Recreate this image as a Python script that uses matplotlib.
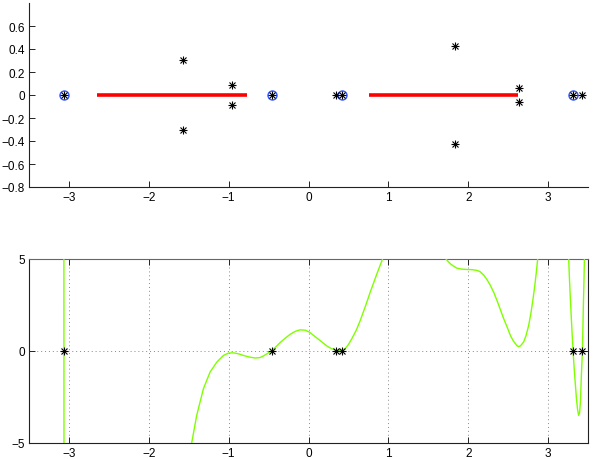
import numpy as np
import matplotlib
matplotlib.use("Agg")
import matplotlib.pyplot as plt
from matplotlib.ticker import FuncFormatter

plt.rcParams['font.family'] = ['Liberation Sans', 'DejaVu Sans']
plt.rcParams['font.size'] = 8.5

# ---------------- data ----------------
# real roots (shown as asterisks on both panels)
real_roots = [-3.065, -0.462, 0.343, 0.418, 3.315, 3.43]
# roots marked with blue circles
circled_roots = [-3.065, -0.462, 0.418, 3.315]
# complex roots (real part, imaginary part)
complex_re = [-1.574, -1.574, -0.96, -0.96, 1.834, 1.834, 2.632, 2.632]
complex_im = [0.304, -0.304, 0.087, -0.087, 0.429, -0.429, 0.061, -0.058]
# red intervals on the real axis
interval_starts = [-2.644, 0.761]
interval_ends = [-0.772, 2.624]

# green curve
seg1_x = [-3.063, -3.062]
seg1_y = [5.2, -5.2]
seg2_x = [-1.47, -1.461, -1.40, -1.316, -1.232, -1.148, -1.065, -1.0, -0.94, -0.88,
          -0.815, -0.74, -0.668, -0.61, -0.564, -0.52, -0.467, -0.41, -0.355, -0.29,
          -0.229, -0.16, -0.104, -0.041, 0.01, 0.063, 0.13, 0.188, 0.24, 0.293,
          0.335, 0.376, 0.42, 0.46, 0.50, 0.544, 0.60, 0.648, 0.71, 0.773,
          0.857, 0.927, 0.935]
seg2_y = [-5.3, -4.95, -3.5, -2.05, -1.14, -0.60, -0.24, -0.11, -0.10, -0.15,
          -0.24, -0.33, -0.38, -0.36, -0.27, -0.15, 0.0, 0.22, 0.46, 0.70,
          0.91, 1.08, 1.15, 1.13, 1.03, 0.85, 0.62, 0.42, 0.24, 0.12,
          0.06, 0.03, 0.05, 0.13, 0.35, 0.68, 1.15, 1.66, 2.40, 3.2,
          4.2, 5.0, 5.2]
seg3_x = [1.70, 1.713, 1.745, 1.776, 1.82, 1.86, 1.92, 1.985, 2.05, 2.11,
          2.15, 2.193, 2.235, 2.277, 2.32, 2.36, 2.40, 2.444, 2.49, 2.528,
          2.56, 2.59, 2.612, 2.632, 2.655, 2.694, 2.725, 2.757, 2.785, 2.812,
          2.835, 2.853, 2.87, 2.875]
seg3_y = [5.2, 5.05, 4.88, 4.74, 4.6, 4.5, 4.45, 4.43, 4.42, 4.38,
          4.31, 4.13, 3.88, 3.57, 3.18, 2.75, 2.28, 1.76, 1.27, 0.85,
          0.58, 0.40, 0.28, 0.24, 0.28, 0.49, 0.85, 1.39, 2.05, 2.84,
          3.60, 4.29, 5.0, 5.2]
seg4_x = [3.256, 3.258, 3.268, 3.279, 3.29, 3.30, 3.313, 3.323, 3.333, 3.345,
          3.355, 3.37, 3.383, 3.395, 3.405, 3.417, 3.43, 3.436, 3.442, 3.449,
          3.455, 3.457]
seg4_y = [5.2, 5.0, 3.9, 2.84, 1.9, 1.03, 0.0, -0.68, -1.33, -2.0,
          -2.59, -3.2, -3.5, -3.35, -2.77, -1.33, 0.0, 1.2, 2.48, 3.7,
          5.0, 5.2]
segments_x = [seg1_x, seg2_x, seg3_x, seg4_x]
segments_y = [seg1_y, seg2_y, seg3_y, seg4_y]

top_yticks = [-0.8, -0.6, -0.4, -0.2, 0, 0.2, 0.4, 0.6]
xticks = [-3, -2, -1, 0, 1, 2, 3]
bottom_yticks = [-5, 0, 5]

# ---------------- figure ----------------
W, H = 594, 460
fig = plt.figure(figsize=(W / 100, H / 100), dpi=100)

def fmt(v, pos=None):
    return ('%g' % round(v, 3)).replace('-', '\u2212')

ax1 = fig.add_axes([29 / W, 1 - 188 / H, 559 / W, 184 / H])
ax2 = fig.add_axes([29 / W, 1 - 444 / H, 559 / W, 184 / H])

def asterisk(ax, xs, ys):
    ax.plot(xs, ys, linestyle='none', marker='+', color='k', markersize=6.0, mew=0.8, zorder=5, clip_on=False)
    ax.plot(xs, ys, linestyle='none', marker='x', color='k', markersize=4.3, mew=0.8, zorder=5, clip_on=False)

# top panel
for s, e in zip(interval_starts, interval_ends):
    ax1.plot([s, e], [0, 0], color='red', lw=2.6, solid_capstyle='butt', zorder=2)
ax1.plot(circled_roots, np.zeros(len(circled_roots)), linestyle='none', marker='o',
         markerfacecolor='none', markeredgecolor='#3355ff', markersize=6.5, mew=1.0, zorder=4)
asterisk(ax1, real_roots, np.zeros(len(real_roots)))
asterisk(ax1, complex_re, complex_im)
ax1.set_xlim(-3.5, 3.5)
ax1.set_ylim(-0.8, 0.8)
ax1.set_xticks(xticks)
ax1.set_yticks(top_yticks)
ax1.xaxis.set_major_formatter(FuncFormatter(fmt))
ax1.yaxis.set_major_formatter(FuncFormatter(fmt))
ax1.spines['top'].set_visible(False)
ax1.spines['right'].set_visible(False)
for sp in ax1.spines.values():
    sp.set_linewidth(0.8)
    sp.set_color('#222222')
ax1.tick_params(direction='in', length=4, width=0.7, pad=3, colors='#222222', labelcolor='black')

# bottom panel
for sx, sy in zip(segments_x, segments_y):
    ax2.plot(sx, sy, color='#80ff00', lw=1.0, zorder=3)
asterisk(ax2, real_roots, np.zeros(len(real_roots)))
ax2.set_xlim(-3.5, 3.5)
ax2.set_ylim(-5, 5)
ax2.set_xticks(xticks)
ax2.set_yticks(bottom_yticks)
ax2.xaxis.set_major_formatter(FuncFormatter(fmt))
ax2.yaxis.set_major_formatter(FuncFormatter(fmt))
ax2.grid(True, color='#888888', linestyle=(0, (1, 3)), linewidth=0.7)
for name, sp in ax2.spines.items():
    sp.set_linewidth(0.8)
    sp.set_color('#222222' if name in ('left', 'bottom', 'right') else '#666666')
ax2.tick_params(direction='in', length=4, width=0.7, pad=3, top=True, right=True,
                colors='#222222', labelcolor='black')

fig.savefig('out.png', dpi=100)
